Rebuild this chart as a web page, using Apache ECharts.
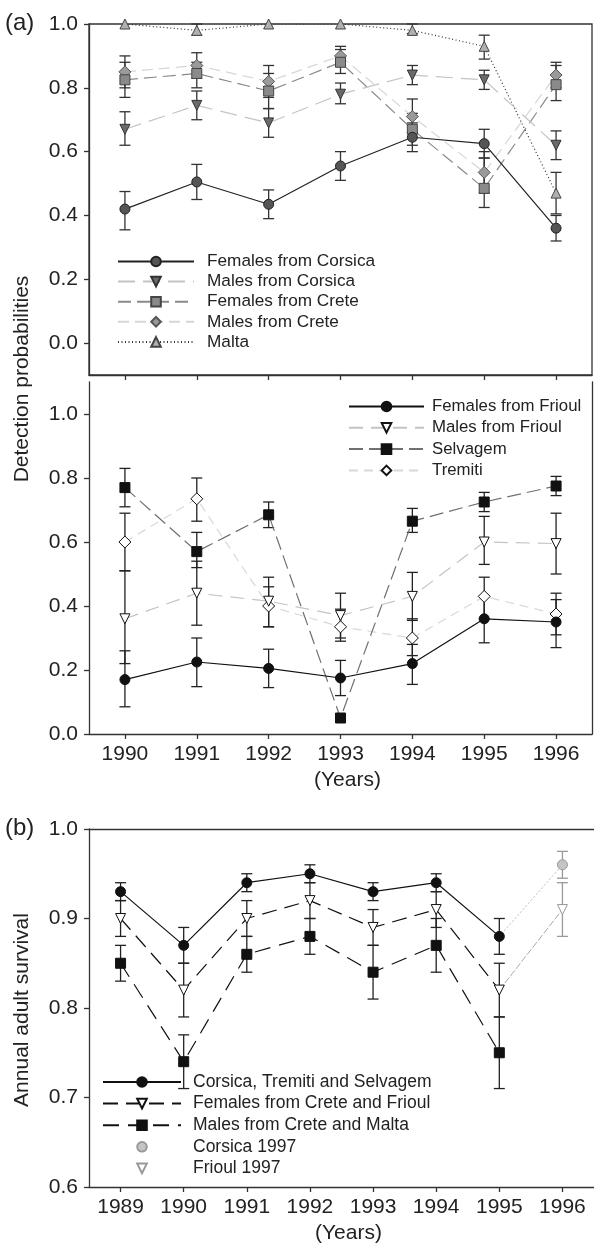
<!DOCTYPE html>
<html><head><meta charset="utf-8">
<script src="https://cdn.jsdelivr.net/npm/echarts@6/dist/echarts.min.js"></script>
<style>html,body{margin:0;padding:0;background:#fff}#c{width:594px;height:1245px}</style>
</head><body><div id="c"></div>
<script>
const FONT = '"Liberation Sans", Arial, Helvetica, sans-serif';
const yearsA = ['1990','1991','1992','1993','1994','1995','1996'];
const yearsB = ['1989','1990','1991','1992','1993','1994','1995','1996'];
const ticksA = [0.0, 0.2, 0.4, 0.6, 0.8, 1.0];
const ticksB = [0.6, 0.7, 0.8, 0.9, 1.0];

// Panel (a), upper
const femCorsica   = [0.42, 0.505, 0.435, 0.555, 0.645, 0.625, 0.36];
const femCorsicaLo = [0.355, 0.45, 0.39, 0.51, 0.60, 0.58, 0.32];
const femCorsicaHi = [0.475, 0.56, 0.48, 0.60, 0.69, 0.67, 0.40];
const malCorsica   = [0.67, 0.745, 0.69, 0.78, 0.84, 0.825, 0.62];
const malCorsicaLo = [0.62, 0.70, 0.645, 0.75, 0.81, 0.795, 0.575];
const malCorsicaHi = [0.725, 0.79, 0.735, 0.815, 0.87, 0.855, 0.665];
const femCrete     = [0.825, 0.845, 0.79, 0.88, 0.67, 0.485, 0.81];
const femCreteLo   = [0.77, 0.80, 0.735, 0.845, 0.62, 0.425, 0.76];
const femCreteHi   = [0.88, 0.88, 0.845, 0.92, 0.72, 0.58, 0.87];
const malCrete     = [0.85, 0.87, 0.82, 0.90, 0.71, 0.535, 0.84];
const malCreteLo   = [0.80, 0.83, 0.77, 0.87, 0.66, 0.47, 0.80];
const malCreteHi   = [0.90, 0.91, 0.87, 0.93, 0.765, 0.60, 0.88];
const malta        = [1.0, 0.98, 1.0, 1.0, 0.98, 0.93, 0.47];
const maltaLo      = [1.0, 0.965, 1.0, 1.0, 0.97, 0.89, 0.405];
const maltaHi      = [1.0, 1.0, 1.0, 1.0, 1.0, 0.965, 0.535];

// Panel (a), lower
const femFrioul    = [0.17, 0.225, 0.205, 0.175, 0.22, 0.36, 0.35];
const femFrioulLo  = [0.085, 0.148, 0.145, 0.12, 0.155, 0.285, 0.27];
const femFrioulHi  = [0.26, 0.30, 0.265, 0.23, 0.28, 0.43, 0.42];
const malFrioul    = [0.36, 0.44, 0.415, 0.37, 0.43, 0.60, 0.595];
const malFrioulLo  = [0.22, 0.34, 0.335, 0.30, 0.355, 0.53, 0.50];
const malFrioulHi  = [0.51, 0.54, 0.49, 0.44, 0.505, 0.68, 0.69];
const selvagem     = [0.77, 0.57, 0.685, 0.05, 0.665, 0.725, 0.775];
const selvagemLo   = [0.71, 0.52, 0.645, 0.04, 0.63, 0.695, 0.745];
const selvagemHi   = [0.83, 0.63, 0.725, 0.06, 0.705, 0.755, 0.805];
const tremiti      = [0.60, 0.735, 0.40, 0.335, 0.30, 0.43, 0.375];
const tremitiLo    = [0.51, 0.665, 0.335, 0.29, 0.245, 0.36, 0.31];
const tremitiHi    = [0.69, 0.80, 0.46, 0.39, 0.36, 0.49, 0.44];

// Panel (b)
const survCTS      = [0.93, 0.87, 0.94, 0.95, 0.93, 0.94, 0.88];
const survCTSLo    = [0.92, 0.85, 0.93, 0.94, 0.92, 0.93, 0.86];
const survCTSHi    = [0.94, 0.89, 0.95, 0.96, 0.94, 0.95, 0.90];
const survFem      = [0.90, 0.82, 0.90, 0.92, 0.89, 0.91, 0.82];
const survFemLo    = [0.88, 0.79, 0.88, 0.90, 0.87, 0.89, 0.79];
const survFemHi    = [0.92, 0.85, 0.92, 0.94, 0.91, 0.93, 0.85];
const survMal      = [0.85, 0.74, 0.86, 0.88, 0.84, 0.87, 0.75];
const survMalLo    = [0.83, 0.71, 0.84, 0.86, 0.81, 0.84, 0.71];
const survMalHi    = [0.87, 0.77, 0.88, 0.90, 0.87, 0.90, 0.79];
const corsica1997  = [0.96, 0.945, 0.975];   // value, lo, hi
const frioul1997   = [0.91, 0.88, 0.94];

const AX = '#333';
function errSeries(gi, lo, hi, color, offset) {
  const off = offset || 0;
  return {
    type: 'custom', xAxisIndex: gi, yAxisIndex: gi === 2 ? 3 : gi, z: 1, silent: true,
    data: lo.map((l, i) => [i + off, l, hi[i]]),
    renderItem: function (params, api) {
      const x = api.value(0);
      const a = api.coord([x, api.value(1)]);
      const b = api.coord([x, api.value(2)]);
      if (Math.abs(a[1] - b[1]) < 0.6) return { type: 'group', children: [] };
      const st = { stroke: color, lineWidth: 1.3, fill: null };
      const c = 5.5;
      return { type: 'group', children: [
        { type: 'line', shape: { x1: a[0], y1: a[1], x2: b[0], y2: b[1] }, style: st },
        { type: 'line', shape: { x1: a[0] - c, y1: a[1], x2: a[0] + c, y2: a[1] }, style: st },
        { type: 'line', shape: { x1: b[0] - c, y1: b[1], x2: b[0] + c, y2: b[1] }, style: st }
      ] };
    }
  };
}
function lineSeries(name, gi, data, symbol, fill, border, lineColor, dash, extra) {
  return Object.assign({
    name: name, type: 'line', xAxisIndex: gi, yAxisIndex: gi === 2 ? 3 : gi, z: 3,
    data: data, symbol: symbol, symbolSize: 10, showAllSymbol: true,
    itemStyle: { color: fill, borderColor: border, borderWidth: 1 },
    lineStyle: { color: lineColor, width: 1.2, type: dash },
    emphasis: { disabled: true }, animation: false
  }, extra || {});
}
const tri = 'triangle';
const down = { symbolRotate: 180 };

const labelStyle = { fontSize: 21, color: '#222', fontFamily: FONT };
function catAxis(gi, data, showLabels, withName) {
  return {
    type: 'category', gridIndex: gi, data: data, boundaryGap: true,
    axisLine: { show: true, onZero: false, lineStyle: { color: AX, width: 1.3 } },
    axisTick: { show: true, alignWithLabel: true, length: 5, lineStyle: { color: AX, width: 1.3 } },
    axisLabel: Object.assign({ show: showLabels, margin: 10 }, labelStyle),
    splitLine: { show: false },
    name: withName ? '(Years)' : '', nameLocation: 'middle', nameGap: 36,
    nameTextStyle: Object.assign({ padding: [0, 0, 0, 14] }, labelStyle)
  };
}
function valAxis(gi, min, max, ticks) {
  return {
    type: 'value', gridIndex: gi, min: min, max: max,
    axisLine: { show: true, onZero: false, lineStyle: { color: AX, width: 1.3 } },
    axisTick: { show: true, length: 5, customValues: ticks, lineStyle: { color: AX, width: 1.3 } },
    axisLabel: Object.assign({ margin: 11, customValues: ticks, formatter: v => v.toFixed(1) }, labelStyle),
    splitLine: { show: false }
  };
}

const legendText = { color: '#222', fontFamily: FONT };
const option = {
  animation: false,
  backgroundColor: '#fff',
  grid: [
    { left: 89, right: 2, top: 24, height: 351, show: true, borderColor: AX, borderWidth: 1.3 },
    { left: 89, right: 2, top: 382, height: 352 },
    { left: 89, width: 510, top: 829, height: 358 }
  ],
  xAxis: [
    catAxis(0, yearsA, false, false),
    catAxis(1, yearsA, true, true),
    catAxis(2, yearsB, true, true),
    { type: 'category', gridIndex: 2, position: 'top', data: yearsB,
      axisLine: { show: true, onZero: false, lineStyle: { color: AX, width: 1.3 } },
      axisTick: { show: false }, axisLabel: { show: false }, splitLine: { show: false } }
  ],
  yAxis: [
    valAxis(0, -0.1, 1.0, ticksA),
    valAxis(1, 0, 1.1, ticksA),
    { type: 'value', gridIndex: 1, position: 'right', min: 0, max: 1.1,
      axisLine: { show: true, onZero: false, lineStyle: { color: AX, width: 1.3 } },
      axisTick: { show: false }, axisLabel: { show: false }, splitLine: { show: false } },
    valAxis(2, 0.6, 1.0, ticksB)
  ],
  legend: [
    { data: ['Females from Corsica', 'Males from Corsica', 'Females from Crete', 'Males from Crete', 'Malta'],
      orient: 'vertical', left: 112, top: 248, itemWidth: 76, itemHeight: 12, itemGap: 3.1,
      textStyle: Object.assign({ fontSize: 17.2, padding: [0, 0, 0, 8] }, legendText), selectedMode: false },
    { data: ['Females from Frioul', 'Males from Frioul', 'Selvagem', 'Tremiti'],
      orient: 'vertical', left: 343, top: 393, itemWidth: 75, itemHeight: 12, itemGap: 4.3,
      textStyle: Object.assign({ fontSize: 16.8, padding: [0, 0, 0, 3] }, legendText), selectedMode: false },
    { data: ['Corsica, Tremiti and Selvagem', 'Females from Crete and Frioul', 'Males from Crete and Malta', 'Corsica 1997', 'Frioul 1997'],
      orient: 'vertical', left: 97, top: 1068, itemWidth: 78, itemHeight: 12, itemGap: 3.6,
      textStyle: Object.assign({ fontSize: 17.5, padding: [0, 0, 0, 7] }, legendText), selectedMode: false }
  ],
  graphic: [
    { type: 'text', left: 5, top: 11, style: { text: '(a)', font: '24px ' + FONT, fill: '#222' } },
    { type: 'text', left: 5, top: 816, style: { text: '(b)', font: '24px ' + FONT, fill: '#222' } },
    { type: 'text', x: 22, y: 379, rotation: Math.PI / 2,
      style: { text: 'Detection probabilities', font: '21px ' + FONT, fill: '#222', align: 'center', verticalAlign: 'middle' } },
    { type: 'text', x: 22, y: 1010, rotation: Math.PI / 2,
      style: { text: 'Annual adult survival', font: '21px ' + FONT, fill: '#222', align: 'center', verticalAlign: 'middle' } }
  ],
  series: [
    errSeries(0, femCorsicaLo, femCorsicaHi, '#333'),
    errSeries(0, malCorsicaLo, malCorsicaHi, '#333'),
    errSeries(0, femCreteLo, femCreteHi, '#333'),
    errSeries(0, malCreteLo, malCreteHi, '#333'),
    errSeries(0, maltaLo, maltaHi, '#333'),
    lineSeries('Malta', 0, malta, tri, '#b0b0b0', '#444', '#333', [1, 2.5]),
    lineSeries('Males from Crete', 0, malCrete, 'diamond', '#9a9a9a', '#555', '#d6d6d6', [11, 6], { symbolSize: 12 }),
    lineSeries('Females from Crete', 0, femCrete, 'rect', '#8a8a8a', '#444', '#8a8a8a', [13, 6]),
    lineSeries('Males from Corsica', 0, malCorsica, tri, '#6a6a6a', '#333', '#c4c4c4', [17, 8], down),
    lineSeries('Females from Corsica', 0, femCorsica, 'circle', '#555', '#222', '#222', 'solid'),
    errSeries(1, femFrioulLo, femFrioulHi, '#222'),
    errSeries(1, malFrioulLo, malFrioulHi, '#222'),
    errSeries(1, selvagemLo, selvagemHi, '#222'),
    errSeries(1, tremitiLo, tremitiHi, '#222'),
    lineSeries('Tremiti', 1, tremiti, 'diamond', '#fff', '#111', '#d8d8d8', [9, 6], { symbolSize: 12 }),
    lineSeries('Selvagem', 1, selvagem, 'rect', '#111', '#111', '#707070', [14, 6]),
    lineSeries('Males from Frioul', 1, malFrioul, tri, '#fff', '#111', '#c4c4c4', [14, 8], down),
    lineSeries('Females from Frioul', 1, femFrioul, 'circle', '#111', '#111', '#111', 'solid'),
    errSeries(2, survCTSLo, survCTSHi, '#222'),
    errSeries(2, survFemLo, survFemHi, '#222'),
    errSeries(2, survMalLo, survMalHi, '#222'),
    errSeries(2, [corsica1997[1]], [corsica1997[2]], '#9a9a9a', 7),
    errSeries(2, [frioul1997[1]], [frioul1997[2]], '#9a9a9a', 7),
    { type: 'line', xAxisIndex: 2, yAxisIndex: 3, z: 2, symbol: 'none', silent: true,
      data: [[yearsB[6], survCTS[6]], [yearsB[7], corsica1997[0]]],
      lineStyle: { color: '#777', width: 1, type: [1, 3] } },
    { type: 'line', xAxisIndex: 2, yAxisIndex: 3, z: 2, symbol: 'none', silent: true,
      data: [[yearsB[6], survFem[6]], [yearsB[7], frioul1997[0]]],
      lineStyle: { color: '#aaa', width: 1, type: [7, 2] } },
    lineSeries('Males from Crete and Malta', 2, survMal, 'rect', '#111', '#111', '#111', [16, 9]),
    lineSeries('Females from Crete and Frioul', 2, survFem, tri, '#fff', '#111', '#111', [15, 8], down),
    lineSeries('Corsica, Tremiti and Selvagem', 2, survCTS, 'circle', '#111', '#111', '#111', 'solid'),
    lineSeries('Corsica 1997', 2, [[yearsB[7], corsica1997[0]]], 'circle', '#c4c4c4', '#999', '#fff', 'solid', { lineStyle: { width: 0, opacity: 0 } }),
    lineSeries('Frioul 1997', 2, [[yearsB[7], frioul1997[0]]], tri, '#fff', '#999', '#fff', 'solid', { symbolRotate: 180, lineStyle: { width: 0, opacity: 0 } })
  ]
};
const chart = echarts.init(document.getElementById('c'), null, { renderer: 'canvas' });
chart.setOption(option);
</script>
</body></html>
